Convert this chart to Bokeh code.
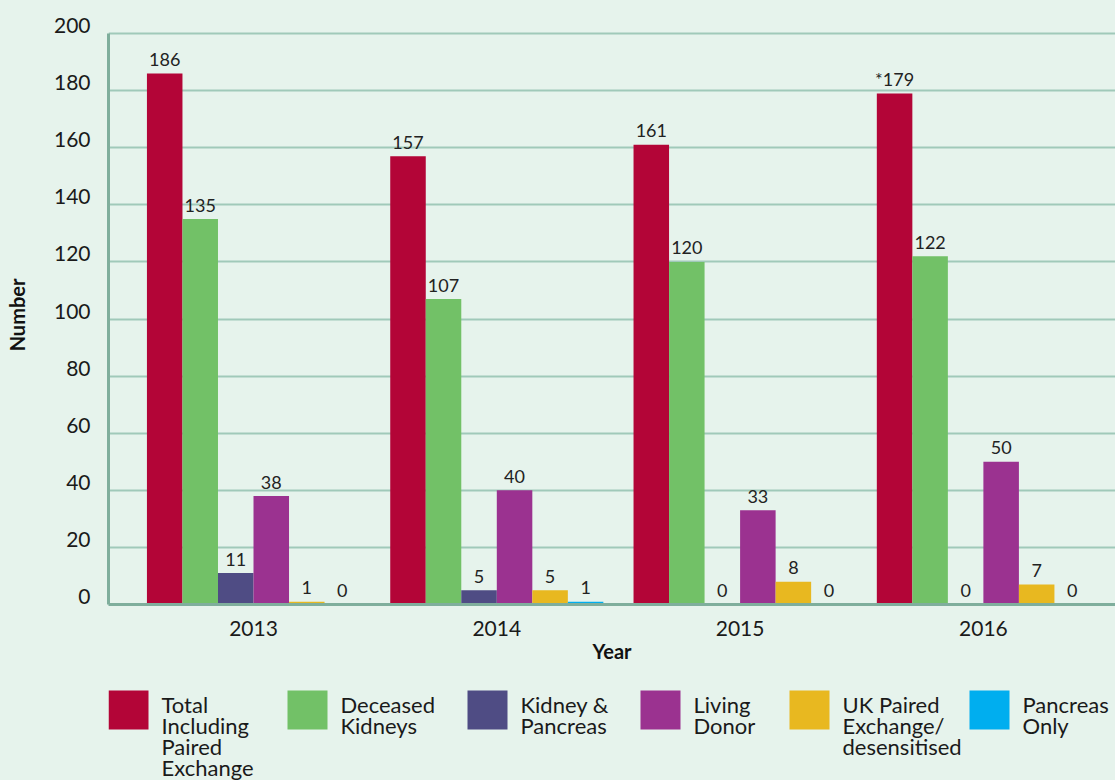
from bokeh.plotting import figure
from bokeh.models import Range1d, FixedTicker, LinearAxis
from bokeh.layouts import column
from bokeh.core.properties import value
from bokeh.embed import file_html
from bokeh.resources import INLINE

# ---- data ----
years = ["2013", "2014", "2015", "2016"]
series_names = [["Total", "Including", "Paired", "Exchange"], ["Deceased", "Kidneys"],
                ["Kidney &", "Pancreas"], ["Living", "Donor"],
                ["UK Paired", "Exchange/", "desensitised"], ["Pancreas", "Only"]]
total = [186, 157, 161, 179]
deceased = [135, 107, 120, 122]
kidney_pancreas = [11, 5, 0, 0]
living = [38, 40, 33, 50]
uk_paired = [1, 5, 8, 7]
pancreas_only = [0, 1, 0, 0]
total_labels = ["186", "157", "161", "*179"]
y_ticks = [0, 20, 40, 60, 80, 100, 120, 140, 160, 180, 200]

colors = ["#b30537", "#72c167", "#4f4c84", "#9b3290", "#e8b820", "#00aeef"]
series = [total, deceased, kidney_pancreas, living, uk_paired, pancreas_only]
labels = [total_labels] + [[str(v) for v in s] for s in series[1:]]

BG = "#e6f3ec"
FONT = "Lato"
W = 1115
H_MAIN = 682
H_LEG = 98
LEFT = 108
TOP = 25
BOTTOM = 78
Y_MAX = 200
PX_PER_UNIT = (H_MAIN - TOP - BOTTOM - 8) / Y_MAX   # 8px headroom above the top gridline
Y_END = Y_MAX + 8 / PX_PER_UNIT
LAB_SHIFT = 8 / PX_PER_UNIT   # tick labels sit on top of their gridlines

p = figure(width=W, height=H_MAIN, output_backend="svg", toolbar_location=None,
           x_range=Range1d(-0.596, 3.543), y_range=Range1d(0, Y_END),
           min_border_left=LEFT, min_border_right=0, min_border_top=TOP, min_border_bottom=BOTTOM)
p.background_fill_color = BG
p.border_fill_color = BG
p.outline_line_color = None

bw = 0.146
xs = list(range(len(years)))
for k, (vals, col, labs) in enumerate(zip(series, colors, labels)):
    off = (k - 2.5) * bw
    xk = [x + off for x in xs]
    p.vbar(x=xk, top=vals, bottom=0, width=bw, fill_color=col, line_color=None)
    p.text(x=xk, y=vals, text=labs, text_align="center", text_baseline="alphabetic",
           y_offset=-14, text_font=value(FONT), text_font_size="18px", text_color="#222222")

AXIS_COL = "#7fae9c"
# x axis
xa = p.xaxis[0]
xa.ticker = FixedTicker(ticks=xs)
xa.major_label_overrides = {i: y for i, y in enumerate(years)}
xa.axis_label = "Year"
# y axis line (0..200) without labels
ya = p.yaxis[0]
ya.bounds = (0, Y_MAX)
ya.ticker = FixedTicker(ticks=[])
ya.major_label_standoff = 0
# y tick labels axis
yl = LinearAxis(ticker=FixedTicker(ticks=[t + LAB_SHIFT for t in y_ticks]),
                major_label_overrides={t + LAB_SHIFT: str(t) for t in y_ticks},
                axis_line_color=None, axis_label="Number")
p.add_layout(yl, "left")

for ax in (xa, ya, yl):
    if ax is not yl:
        ax.axis_line_color = AXIS_COL
        ax.axis_line_width = 3
    ax.major_tick_line_color = None
    ax.minor_tick_line_color = None
    ax.major_tick_out = 0
    ax.major_tick_in = 0
    ax.major_label_text_font = FONT
    ax.major_label_text_font_size = "21px"
    ax.major_label_text_color = "#1a1a1a"
    ax.axis_label_text_font = FONT
    ax.axis_label_text_font_style = "bold"
    ax.axis_label_text_font_size = "20px"
    ax.axis_label_text_color = "#111111"
xa.major_label_standoff = 16
xa.axis_label_standoff = 0
yl.major_label_standoff = 18
yl.axis_label_standoff = 22

p.xgrid.grid_line_color = None
p.ygrid.ticker = FixedTicker(ticks=y_ticks)
p.ygrid.grid_line_color = "#a0c9b9"
p.ygrid.grid_line_width = 2

# ---- legend figure (its frame is aligned with the chart frame) ----
leg_x = [108, 287, 467, 640, 789, 969]
lg = figure(width=W, height=H_LEG, output_backend="svg", toolbar_location=None,
            x_axis_type=None, y_axis_type=None,
            x_range=Range1d(LEFT, W), y_range=Range1d(H_LEG, 0),
            min_border=0, min_border_left=LEFT, min_border_right=0, min_border_top=0, min_border_bottom=0)
lg.background_fill_color = BG
lg.border_fill_color = BG
lg.outline_line_color = None
lg.grid.visible = False
lg.quad(left=leg_x, right=[x + 40 for x in leg_x], top=[8] * 6, bottom=[47] * 6,
        fill_color=colors, line_color=None)
tx, ty, tt = [], [], []
for x0, lines in zip(leg_x, series_names):
    for i, line in enumerate(lines):
        tx.append(x0 + 53)
        ty.append(22 + 21 * i)
        tt.append(line)
lg.text(x=tx, y=ty, text=tt, text_align="left", text_baseline="alphabetic",
        text_font=value(FONT), text_font_size="22px", text_color="#1a1a1a")

layout = column(p, lg, spacing=0, styles={"background-color": BG})
open("out.html", "w").write(file_html(layout, INLINE))
